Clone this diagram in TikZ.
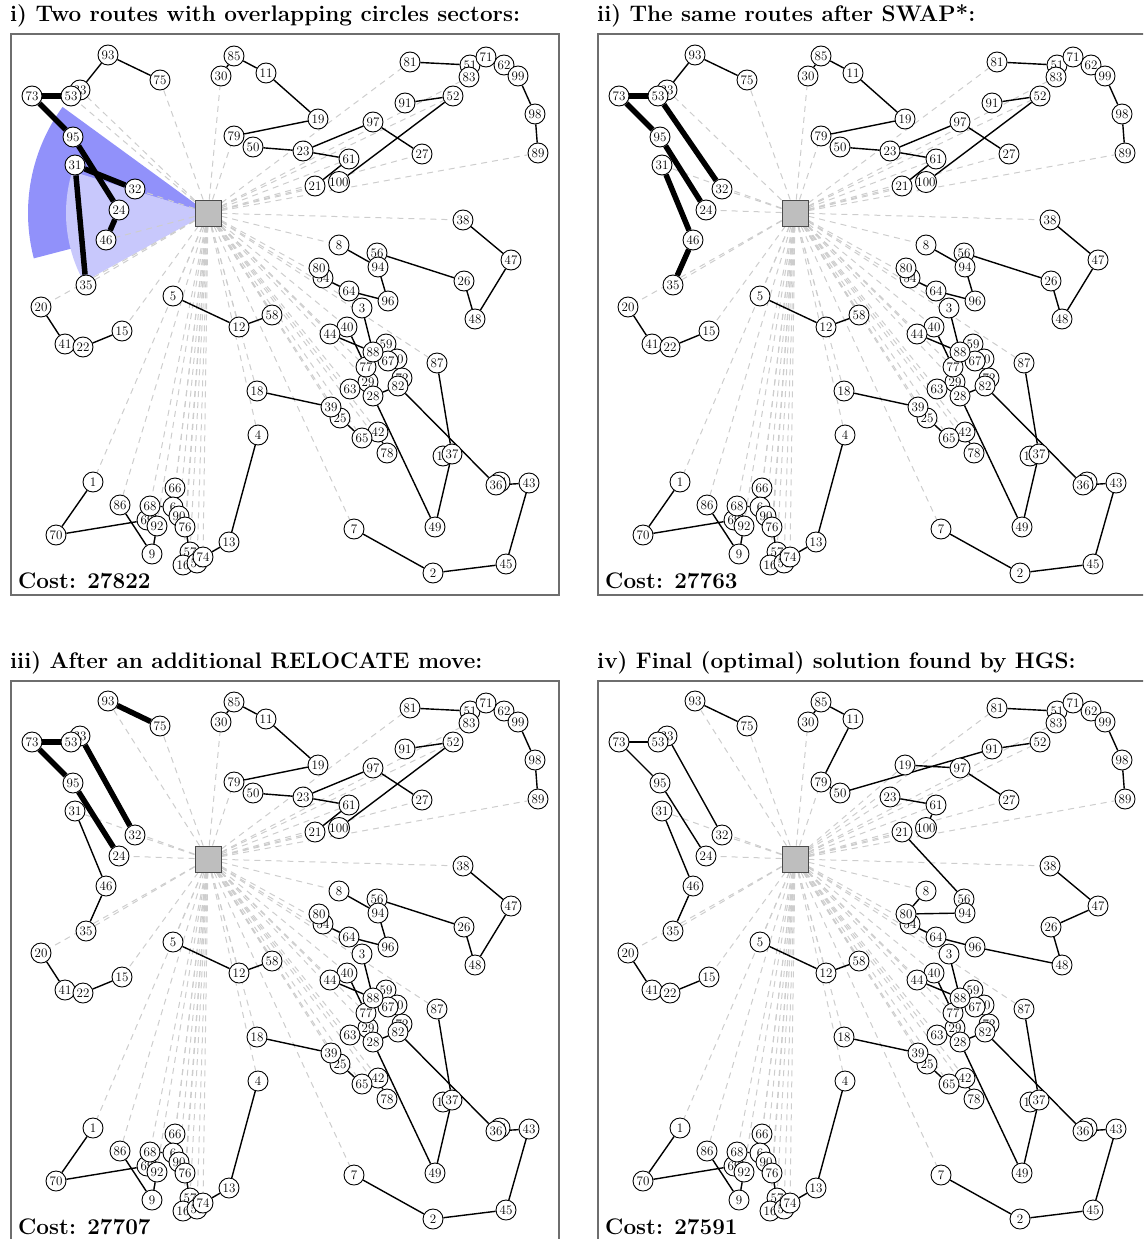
\documentclass[tikz,border=0pt]{standalone}
\usetikzlibrary{backgrounds}
\definecolor{secdark}{RGB}{145,145,250}
\definecolor{seclight}{RGB}{200,200,252}
\definecolor{dashgray}{RGB}{205,205,205}
\definecolor{framegray}{RGB}{110,110,110}
\definecolor{depotfill}{RGB}{190,190,190}
\tikzset{
 cn/.style={circle, draw=black, fill=white, line width=0.9pt, minimum size=20pt, inner sep=0pt, font=\fontsize{13}{13}\selectfont},
 depotbox/.style={rectangle, draw=black!70, fill=depotfill, line width=0.9pt, minimum size=26pt, inner sep=0pt},
 route/.style={line width=1.4pt, black},
 hot/.style={line width=5.5pt, black},
 dep/.style={dashgray, line width=1pt, dash pattern=on 6pt off 5pt},
 panelframe/.style={framegray, line width=1.4pt},
 ptitle/.style={anchor=base west, inner sep=0pt, font=\fontsize{22.5}{26}\selectfont\bfseries},
}
\newcommand\custnodes{%
 \foreach \n/\x/\y in {33/80/90, 93/108/55, 75/160/80, 53/71/96, 73/32/96, 95/73/137, 31/75/165, 32/135/189, 24/119/210, 46/106/240, 35/86/285, 20/41/307, 41/65/344, 22/83/347, 15/122/331, 5/173/296, 12/239/327, 58/272/315, 18/257/391, 4/258/435, 1/93/482, 70/56/535, 86/120/505, 66/175/488, 6/173/507, 90/179/516, 69/147/520, 68/150/506, 92/157/526, 76/185/527, 9/152/554, 57/190/552, 16/183/565, 55/197/563, 74/203/557, 13/229/542,
 85/234/56, 30/221/76, 11/266/73, 79/234/136, 50/253/147, 19/318/119, 97/373/122, 23/303/151, 61/349/159, 27/422/154, 21/315/186, 100/339/182, 91/405/103, 52/453/96, 81/410/62, 51/470/65, 83/469/77, 62/504/65, 71/486/57, 99/518/76, 98/535/114, 89/538/153,
 38/463/220, 47/511/260, 26/464/281, 48/475/319, 8/339/245, 56/377/253, 94/378/267, 54/323/278, 80/319/268, 64/349/291, 96/388/301, 3/362/308,
 40/347/327, 44/330/334, 29/368/382, 77/366/367, 59/386/344, 60/397/359, 67/388/361, 88/373/352, 63/350/389, 28/373/396, 72/402/378, 82/398/386, 87/437/363, 25/340/418, 39/331/407, 42/378/432, 65/362/438, 78/387/453, 17/443/456, 37/452/454, 84/500/482, 36/496/485, 43/529/483, 49/435/527, 7/354/529, 2/433/573, 45/506/564}
 {\node[cn] (\n) at (\x,\y) {\n};}
 \node[depotbox] (D) at (208,213) {};
}
\newcommand\basedash{%
 \foreach \a in {20,15,5,58,12,1,86,68,66,6,90,76,57,16,55,74,9,4,18,7,87,39,25,63,77,29,44,40,3,64,65,42,78,8,38,89,27,52,83,81,21,100,61,30,79}
 {\draw[dep] (D) -- (\a);}
}
\newcommand\baseroutes{%
 \foreach \a/\b in {5/12, 12/58, 20/41, 41/22, 22/15, 1/70, 70/69, 86/9, 9/92, 68/6, 90/76, 76/57, 74/13, 13/4, 18/39, 25/65, 42/78, 28/82, 82/36, 36/43, 43/45, 45/2, 2/7, 87/37, 37/49, 28/49, 3/88, 44/88, 40/77, 81/51, 99/98, 98/89, 30/85, 85/11, 38/47, 23/61, 91/52, 97/27}
 {\draw[route] (\a) -- (\b);}
}
\newcommand\firstroutes{%
 \foreach \a/\b in {11/19, 19/79, 50/23, 23/97, 61/21, 100/52, 8/94, 56/26, 94/96, 54/64, 64/96, 26/48, 48/47}
 {\draw[route] (\a) -- (\b);}
}
\begin{document}
\begin{tikzpicture}[x=1pt,y=-1pt]
\useasboundingbox (0,0) rectangle (1143,1239);
\clip (0,0) rectangle (1143,1239);
% titles and frames
\node[ptitle] (t1) at (10,22) {i) Two routes with overlapping circles sectors:};
\node[ptitle] (t2) at (597,22) {ii) The same routes after SWAP*:};
\node[ptitle] (t3) at (10,668) {iii) After an additional RELOCATE move:};
\node[ptitle] (t4) at (597,668) {iv) Final (optimal) solution found by HGS:};
\draw[panelframe] (11,34) rectangle (559,595);
\draw[panelframe] (598,34) rectangle (1147,595);
\draw[panelframe] (11,681) rectangle (559,1243);
\draw[panelframe] (598,681) rectangle (1147,1243);
% panel i
\begin{scope}[name prefix=A-]
 \custnodes
 \begin{scope}[on background layer]
  \fill[secdark] (D.center) -- ++(-143.9:180) arc[start angle=-143.9, end angle=-194.6, radius=180] -- cycle;
  \fill[seclight] (D.center) -- ++(-163:142) arc[start angle=-163, end angle=-209, radius=142] -- cycle;
  \basedash
  \foreach \a in {33,75,53,46,32,35} {\draw[dep] (D) -- (\a);}
  \baseroutes
  \firstroutes
  \draw[route] (93) -- (33) (93) -- (75);
  \foreach \a/\b in {73/53, 73/95, 95/24, 24/46, 31/32, 31/35} {\draw[hot] (\a) -- (\b);}
 \end{scope}
 \node[anchor=base west, inner sep=0pt, font=\fontsize{22.5}{26}\selectfont\bfseries] (c1) at (18,588) {Cost: 27822};
\end{scope}
% panel ii
\begin{scope}[shift={(587,0)}, name prefix=B-]
 \custnodes
 \begin{scope}[on background layer]
  \basedash
  \foreach \a in {33,75,32,24,31,35} {\draw[dep] (D) -- (\a);}
  \baseroutes
  \firstroutes
  \draw[route] (93) -- (33) (93) -- (75);
  \foreach \a/\b in {73/53, 53/32, 73/95, 95/24, 31/46, 46/35} {\draw[hot] (\a) -- (\b);}
 \end{scope}
 \node[anchor=base west, inner sep=0pt, font=\fontsize{22.5}{26}\selectfont\bfseries] (c2) at (18,588) {Cost: 27763};
\end{scope}
% panel iii
\begin{scope}[shift={(0,646)}, name prefix=C-]
 \custnodes
 \begin{scope}[on background layer]
  \basedash
  \foreach \a in {93,75,32,24,31,35} {\draw[dep] (D) -- (\a);}
  \baseroutes
  \firstroutes
  \draw[route] (31) -- (46) (46) -- (35);
  \foreach \a/\b in {73/53, 53/33, 33/32, 73/95, 95/24, 93/75} {\draw[hot] (\a) -- (\b);}
 \end{scope}
 \node[anchor=base west, inner sep=0pt, font=\fontsize{22.5}{26}\selectfont\bfseries] (c3) at (18,588) {Cost: 27707};
\end{scope}
% panel iv
\begin{scope}[shift={(587,646)}, name prefix=E-]
 \custnodes
 \begin{scope}[on background layer]
  \basedash
  \foreach \a in {93,75,32,24,31,35,19,23} {\draw[dep] (D) -- (\a);}
  \baseroutes
  \foreach \a/\b in {11/79, 79/50, 50/91, 19/97, 61/100, 21/56, 8/80, 80/94, 54/64, 64/96, 96/48, 48/26, 26/47,
    73/53, 53/33, 33/32, 73/95, 95/24, 93/75, 31/46, 46/35} {\draw[route] (\a) -- (\b);}
 \end{scope}
 \node[anchor=base west, inner sep=0pt, font=\fontsize{22.5}{26}\selectfont\bfseries] (c4) at (18,588) {Cost: 27591};
\end{scope}
\end{tikzpicture}
\end{document}
